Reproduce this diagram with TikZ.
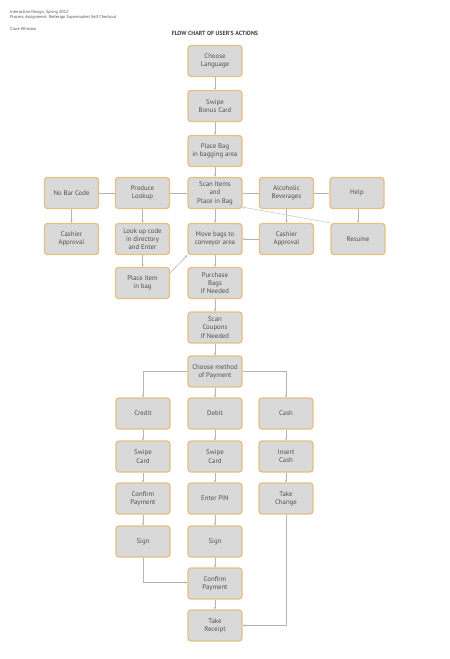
\documentclass[tikz,border=0pt]{standalone}
\usepackage{fontspec}
\setmainfont{PT Sans}
\usetikzlibrary{arrows.meta}
\definecolor{boxfill}{HTML}{D9D9D9}
\definecolor{boxline}{HTML}{E6BE82}
\definecolor{txt}{HTML}{505050}
\definecolor{conn}{HTML}{B4B4B4}
\tikzset{
  flowbox/.style={draw=boxline, line width=1.3pt, fill=boxfill, rounded corners=3pt,
    minimum width=54pt, minimum height=31pt, inner sep=1pt, align=center,
    text=txt, font=\fontsize{6.8}{8.3}\selectfont},
  conline/.style={draw=conn, line width=0.6pt},
  conarrow/.style={conline, -{Stealth[length=2.6pt,width=2.4pt]}},
  hdr/.style={anchor=west, inner sep=0pt, text=txt, font=\fontsize{4.3}{5}\selectfont}
}
\begin{document}
\begin{tikzpicture}[x=1pt,y=-1pt]
\useasboundingbox (0,0) rectangle (450,659);
% header
\node[hdr] (h1) at (10,12.5) {Interaction Design, Spring 2012};
\node[hdr] (h2) at (10,17.5) {Process Assignment: Redesign Supermarket Self Checkout};
\node[hdr] (h3) at (10,29) {Clare Winslow};
\node[inner sep=0pt, text=txt!80!black, font=\fontsize{6}{7}\selectfont\bfseries] (title) at (215,33) {FLOW CHART OF USER'S ACTIONS};
% column 3 top
\node[flowbox] (lang) at (215,61) {Choose\\Language};
\node[flowbox] (bonus) at (215,106) {Swipe\\Bonus Card};
\node[flowbox] (bag) at (215,151) {Place Bag\\in bagging area};
% row 4
\node[flowbox] (nobar) at (71.5,193) {No Bar Code};
\node[flowbox] (produce) at (142.5,193) {Produce\\Lookup};
\node[flowbox] (scan) at (215,193) {Scan Items\\and\\Place in Bag};
\node[flowbox] (alco) at (286.5,193) {Alcoholic\\Beverages};
\node[flowbox] (help) at (357,193) {Help};
% row 5
\node[flowbox] (cash1) at (71.5,239) {Cashier\\Approval};
\node[flowbox] (lookup) at (142.5,239) {Look up code\\in directory\\and Enter};
\node[flowbox] (move) at (215,239) {Move bags to\\conveyor area};
\node[flowbox] (cash2) at (286.5,239) {Cashier\\Approval};
\node[flowbox] (resume) at (358,239) {Resume};
% row 6
\node[flowbox] (place) at (142.5,283) {Place item\\in bag};
\node[flowbox] (purchase) at (215,283) {Purchase\\Bags\\If Needed};
\node[flowbox] (coupons) at (215,327.5) {Scan\\Coupons\\If Needed};
\node[flowbox] (method) at (215,371.5) {Choose method\\of Payment};
% payment
\node[flowbox] (credit) at (143,413.5) {Credit};
\node[flowbox] (debit) at (215,413.5) {Debit};
\node[flowbox] (cash) at (286,413.5) {Cash};
\node[flowbox] (swipec) at (143,456.5) {Swipe\\Card};
\node[flowbox] (swiped) at (215,456.5) {Swipe\\Card};
\node[flowbox] (insert) at (286,456.5) {Insert\\Cash};
\node[flowbox] (confc) at (143,498.5) {Confirm\\Payment};
\node[flowbox] (pin) at (215,498.5) {Enter PIN};
\node[flowbox] (change) at (286,498.5) {Take\\Change};
\node[flowbox] (signc) at (143,541.5) {Sign};
\node[flowbox] (signd) at (215,541.5) {Sign};
\node[flowbox] (confd) at (215,583.5) {Confirm\\Payment};
\node[flowbox] (receipt) at (215,625.5) {Take\\Receipt};
% connectors
\draw[conarrow] (lang) -- (bonus);
\draw[conarrow] (bonus) -- (bag);
\draw[conarrow] (bag) -- (scan);
\draw[conline] (nobar) -- (produce);
\draw[conline] (produce) -- (scan);
\draw[conline] (scan) -- (alco);
\draw[conline] (alco) -- (help);
\draw[conarrow] (nobar) -- (cash1);
\draw[conarrow] (produce) -- (lookup);
\draw[conarrow] (scan) -- (move);
\draw[conarrow] (alco) -- (cash2);
\draw[conarrow] (help.south -| resume) -- (resume);
\draw[conarrow] (lookup) -- (place);
\draw[conarrow] ([yshift=-6pt]place.north east) -- (move.south west);
\draw[conarrow] (cash2) -- (move);
\draw[conarrow, draw=conn!70] (resume.north west) -- ([yshift=2pt]scan.south east);
\draw[conarrow] (move) -- (purchase);
\draw[conarrow] (purchase) -- (coupons);
\draw[conarrow] (coupons) -- (method);
\draw[conarrow] (method.west) -| (credit.north);
\draw[conarrow] (method) -- (debit);
\draw[conarrow] (method.east) -| (cash.north);
\draw[conarrow] (credit) -- (swipec);
\draw[conarrow] (swipec) -- (confc);
\draw[conarrow] (confc) -- (signc);
\draw[conarrow] (debit) -- (swiped);
\draw[conarrow] (swiped) -- (pin);
\draw[conarrow] (pin) -- (signd);
\draw[conarrow] (signd) -- (confd);
\draw[conarrow] (confd) -- (receipt);
\draw[conarrow] (cash) -- (insert);
\draw[conarrow] (insert) -- (change);
\draw[conarrow] (signc.south) |- ([yshift=1pt]confd.west);
\draw[conarrow] (change.south) |- (receipt.east);
\end{tikzpicture}
\end{document}
